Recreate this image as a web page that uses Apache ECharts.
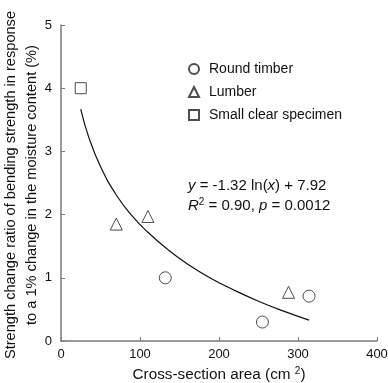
<!DOCTYPE html>
<html>
<head>
<meta charset="utf-8">
<script src="https://cdn.jsdelivr.net/npm/echarts@6/dist/echarts.min.js"></script>
<style>
  html, body { margin: 0; padding: 0; background: #fff; }
  #chart { width: 388px; height: 383px; }
</style>
</head>
<body>
<div id="chart"></div>
<script>
// data
var roundTimber = [[132, 1.0], [255, 0.3], [314, 0.71]];
var lumber = [[70, 1.85], [110, 1.97], [288, 0.77]];
var smallClear = [[25, 4.0]];
// fitted curve, points
var fitX = [25, 35, 50, 70, 90, 110, 135, 160, 190, 220, 250, 280, 314];
var fitY = [3.67, 3.23, 2.76, 2.31, 1.98, 1.72, 1.45, 1.22, 0.99, 0.80, 0.63, 0.48, 0.33];

var FONT = 'Liberation Sans';
var AXIS_COLOR = '#7a7a7a';

var fitData = fitX.map(function (x, i) { return [x, fitY[i]]; });

var chart = echarts.init(document.getElementById('chart'));
var option = {
    animation: false,
    textStyle: { fontFamily: FONT },
    grid: { left: 61, right: 11, top: 25, bottom: 42, outerBoundsMode: 'none', containLabel: false },
    legend: {
        orient: 'vertical',
        left: 183,
        top: 57,
        itemGap: 9,
        itemWidth: 10,
        itemHeight: 10,
        textStyle: { fontFamily: FONT, fontSize: 14, color: '#111', padding: [0, 0, 0, 5] },
        data: [
            { name: 'Round timber', icon: 'circle' },
            { name: 'Lumber', icon: 'triangle' },
            { name: 'Small clear specimen', icon: 'rect' }
        ]
    },
    xAxis: {
        type: 'value',
        min: 0, max: 400, interval: 100,
        name: 'Cross-section area (cm {s|2})',
        nameLocation: 'middle',
        nameGap: 25,
        nameTextStyle: {
            fontFamily: FONT, fontSize: 15.3, color: '#111',
            rich: { s: { fontSize: 10, fontFamily: FONT, color: '#111', verticalAlign: 'top', padding: [0, 0, 7, 0] } }
        },
        axisLine: { lineStyle: { color: AXIS_COLOR, width: 1.5 } },
        axisTick: { inside: true, length: 4, lineStyle: { color: AXIS_COLOR } },
        axisLabel: { fontFamily: FONT, fontSize: 13, color: '#111', margin: 7 },
        splitLine: { show: false }
    },
    yAxis: {
        type: 'value',
        min: 0, max: 5, interval: 1,
        axisLine: { lineStyle: { color: AXIS_COLOR, width: 1.5 } },
        axisTick: { inside: true, length: 4, lineStyle: { color: AXIS_COLOR } },
        axisLabel: { fontFamily: FONT, fontSize: 13, color: '#111', margin: 9 },
        splitLine: { show: false }
    },
    graphic: [
        {
            // y axis title, two lines, reading bottom to top
            type: 'text', x: 21, y: 185, rotation: Math.PI / 2,
            style: {
                text: 'Strength change ratio of bending strength in response\nto a 1% change in the moisture content (%)',
                font: '14.6px ' + FONT, fill: '#111', lineHeight: 21,
                align: 'center', verticalAlign: 'middle'
            }
        },
        {
            type: 'text', left: 188, top: 178,
            style: {
                text: '{i|y} = -1.32 ln({i|x}) + 7.92',
                font: '15px ' + FONT, fill: '#111',
                rich: { i: { fontStyle: 'italic', fontSize: 15, fontFamily: FONT } }
            }
        },
        {
            type: 'text', left: 188, top: 197,
            style: {
                text: '{i|R}{s|2} = 0.90, {i|p} = 0.0012',
                font: '15px ' + FONT, fill: '#111',
                rich: {
                    i: { fontStyle: 'italic', fontSize: 15, fontFamily: FONT },
                    s: { fontSize: 10, fontFamily: FONT, verticalAlign: 'top', padding: [0, 0, 7, 0] }
                }
            }
        }
    ],
    series: [
        {
            name: 'fit', type: 'line', data: fitData, smooth: true,
            showSymbol: false, silent: true,
            lineStyle: { color: '#111', width: 1.2 }
        },
        {
            name: 'Round timber', type: 'scatter', data: roundTimber,
            symbol: 'circle', symbolSize: 12,
            itemStyle: { color: '#fff', borderColor: '#222', borderWidth: 1 }
        },
        {
            name: 'Lumber', type: 'scatter', data: lumber,
            symbol: 'triangle', symbolSize: 12,
            itemStyle: { color: '#fff', borderColor: '#222', borderWidth: 1 }
        },
        {
            name: 'Small clear specimen', type: 'scatter', data: smallClear,
            symbol: 'rect', symbolSize: 11,
            itemStyle: { color: '#fff', borderColor: '#222', borderWidth: 1 }
        }
    ]
};
chart.setOption(option);
</script>
</body>
</html>
